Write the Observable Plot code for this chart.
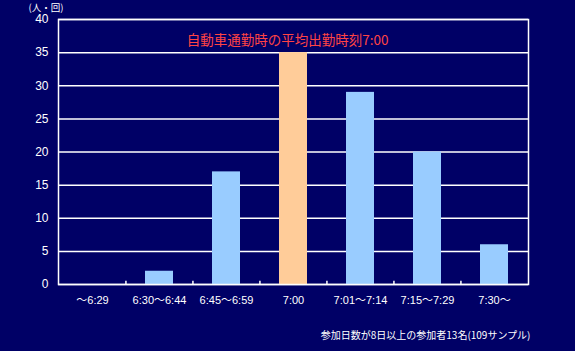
<!DOCTYPE html>
<html><head><meta charset="utf-8">
<script src="https://cdn.jsdelivr.net/npm/d3@7"></script>
<script src="https://cdn.jsdelivr.net/npm/@observablehq/plot@0.6"></script>
<style>
html,body{margin:0;padding:0;background:#000066;}
svg{display:block;}
</style>
</head><body>
<div id="chart"></div>
<script>
const categories = ["～6:29","6:30～6:44","6:45～6:59","7:00","7:01～7:14","7:15～7:29","7:30～"];
const counts = [0, 2, 17, 35, 29, 20, 6];
const highlight = "7:00";
const yTicks = [0,5,10,15,20,25,30,35,40];
const title = "自動車通勤時の平均出勤時刻7:00";
const unitLabel = "(人・回)";
const footnote = "参加日数が8日以上の参加者13名(109サンプル)";

const W = 575, H = 351, ml = 58, mr = 47, mt = 19, mb = 67;
const bw = (W - ml - mr) / categories.length;
const data = categories.map((c, i) => ({cat: c, value: counts[i]}));
const font = "'Liberation Sans', 'Noto Sans CJK JP', sans-serif";

const chart = Plot.plot({
  width: W, height: H,
  marginLeft: ml, marginRight: mr, marginTop: mt, marginBottom: mb,
  style: {background: "#000066", color: "#ffffff", fontFamily: font, fontSize: "12px"},
  x: {domain: categories, paddingInner: 0.58, paddingOuter: 0.29, label: null},
  y: {domain: [0, 40], ticks: yTicks, label: null},
  marks: [
    Plot.gridY(yTicks, {stroke: "#ffffff", strokeOpacity: 1, strokeWidth: 1.5}),
    Plot.barY(data, {x: "cat", y: "value", fill: d => d.cat === highlight ? "#ffcc99" : "#99ccff"}),
    Plot.ruleX(categories.slice(1), {x: d => d, y1: 0, y2: 0.5, dx: -bw / 2, stroke: "#ffffff", strokeWidth: 1.5}),
    Plot.frame({stroke: "#ffffff", strokeWidth: 1.5}),
    Plot.axisY(yTicks, {tickSize: 0, tickPadding: 10, fontSize: 12, fill: "#ffffff"}),
    Plot.axisX({tickSize: 0, tickPadding: 12, fontSize: 11, fill: "#ffffff"}),
    Plot.text([title], {frameAnchor: "top", lineAnchor: "middle", dy: 21, dx: -6, fill: "#ff4444", fontSize: 13.5, fontFamily: "'Noto Sans CJK JP', sans-serif"}),
    Plot.text([unitLabel], {frameAnchor: "top-left", textAnchor: "start", lineAnchor: "middle", dx: -30, dy: -12, fill: "#ffffff", fontSize: 9.5, fontFamily: "'Noto Sans CJK JP', sans-serif"}),
    Plot.text([footnote], {frameAnchor: "bottom-right", textAnchor: "end", lineAnchor: "middle", dx: 2, dy: 51, fill: "#ffffff", fontSize: 10, fontFamily: "'Noto Sans CJK JP', sans-serif"})
  ]
});
document.getElementById("chart").appendChild(chart);
</script>
</body></html>
